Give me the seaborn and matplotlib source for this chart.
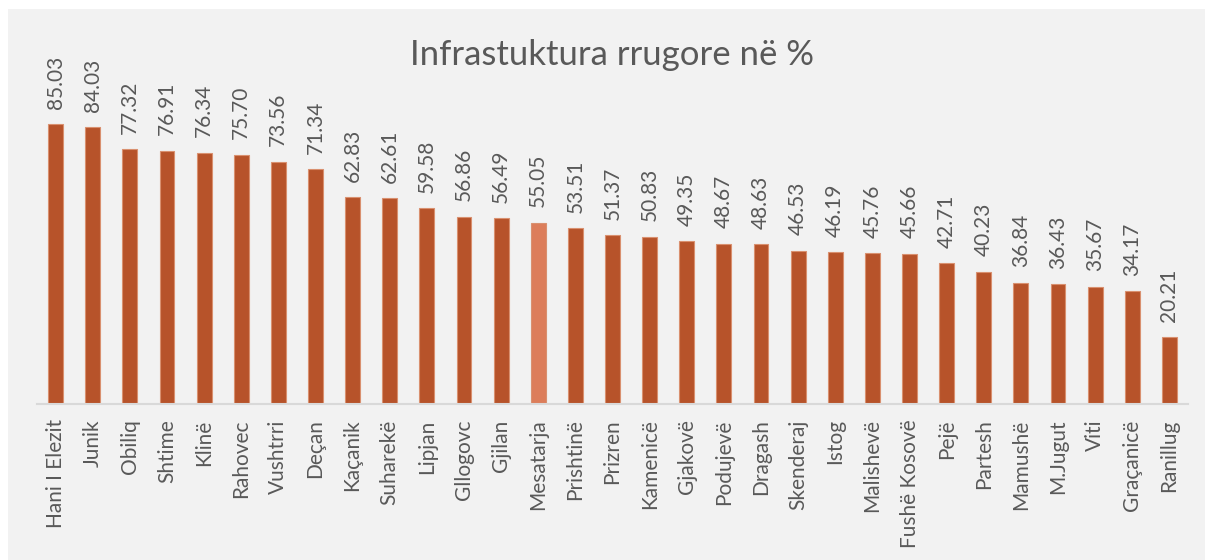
import matplotlib
matplotlib.use("Agg")
import matplotlib.pyplot as plt
import seaborn as sns
import pandas as pd
from matplotlib.patches import Rectangle

categories = ["Hani I Elezit", "Junik", "Obiliq", "Shtime", "Klinë", "Rahovec", "Vushtrri",
              "Deçan", "Kaçanik", "Suharekë", "Lipjan", "Gllogovc", "Gjilan", "Mesatarja",
              "Prishtinë", "Prizren", "Kamenicë", "Gjakovë", "Podujevë", "Dragash",
              "Skenderaj", "Istog", "Malishevë", "Fushë Kosovë", "Pejë", "Partesh",
              "Mamushë", "M.Jugut", "Viti", "Graçanicë", "Ranillug"]
values = [85.03, 84.03, 77.32, 76.91, 76.34, 75.70, 73.56, 71.34, 62.83, 62.61, 59.58,
          56.86, 56.49, 55.05, 53.51, 51.37, 50.83, 49.35, 48.67, 48.63, 46.53, 46.19,
          45.76, 45.66, 42.71, 40.23, 36.84, 36.43, 35.67, 34.17, 20.21]
highlight = "Mesatarja"
title = "Infrastuktura rrugore në %"

bar_color = "#b7532a"
hi_color = "#dc7d5a"
text_color = "#595959"

sns.set_style("white")
plt.rcParams["font.family"] = ["Lato", "DejaVu Sans"]

df = pd.DataFrame({"cat": categories, "val": values})
palette = {c: (hi_color if c == highlight else bar_color) for c in categories}

fig = plt.figure(figsize=(12.05, 5.6), dpi=100)
fig.patch.set_facecolor("white")
fig.patches.append(Rectangle((8 / 1205, 0), 1 - 8 / 1205, 1 - 9 / 560,
                             transform=fig.transFigure, facecolor="#f2f2f2",
                             edgecolor="none", zorder=-10))

ax = fig.add_axes([37 / 1205, 1 - 404 / 560, (1188 - 37) / 1205, (404 - 60) / 560])
ax.set_facecolor("none")

sns.barplot(data=df, x="cat", y="val", hue="cat", palette=palette, legend=False,
            width=0.4, saturation=1, edgecolor="#d9906f", linewidth=0.8, ax=ax)

for cont in ax.containers:
    ax.bar_label(cont, fmt="%.2f", rotation=90, padding=11, fontsize=15, color=text_color)

ax.set_ylim(0, (404 - 60) / 3.293)
ax.set_xlim(-0.5, len(categories) - 0.5)
ax.set_xlabel("")
ax.set_ylabel("")
ax.set_yticks([])
for s in ["top", "right", "left"]:
    ax.spines[s].set_visible(False)
ax.spines["bottom"].set_color("#d9d9d9")
ax.spines["bottom"].set_linewidth(1.5)
ax.tick_params(axis="x", length=0, pad=11, labelsize=15, labelcolor=text_color, rotation=90)

fig.text(612 / 1205, 1 - 55 / 560, title, ha="center", va="center", fontsize=25,
         color=text_color)

fig.savefig("out.png", dpi=100)
